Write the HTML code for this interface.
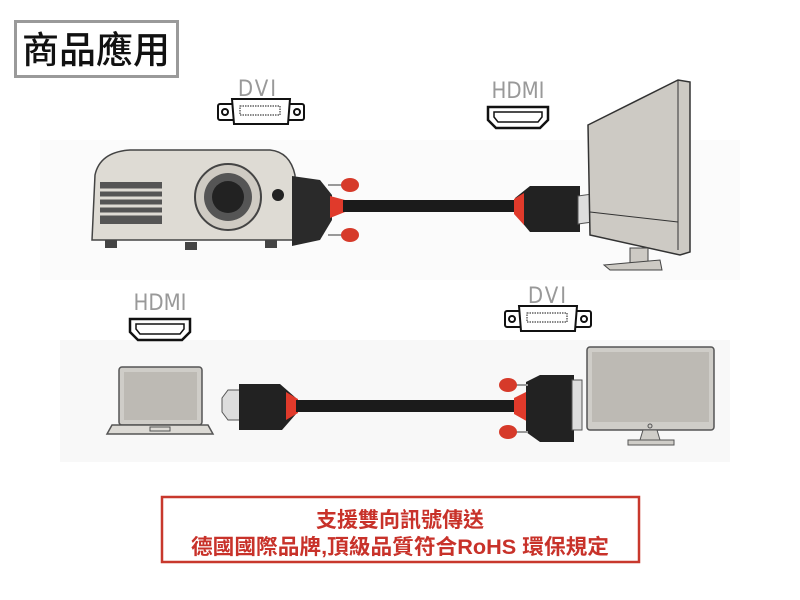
<!DOCTYPE html>
<html><head><meta charset="utf-8"><style>
body{margin:0;background:#fff;width:800px;height:600px;overflow:hidden;font-family:"Liberation Sans","Noto Sans CJK TC",sans-serif}
</style></head><body>
<svg width="800" height="600" viewBox="0 0 800 600" xmlns="http://www.w3.org/2000/svg" style="position:absolute;left:0;top:0">
<rect x="60" y="340" width="670" height="122" fill="#f8f8f8"/>
<rect x="40" y="140" width="700" height="140" fill="#fbfbfb"/>
<!-- title -->
<rect x="15.5" y="21.5" width="162" height="55" fill="#fff" stroke="#9a9a9a" stroke-width="3"/>
<text x="96" y="63" font-size="37" font-weight="500" text-anchor="middle" fill="#111" font-family="Noto Sans CJK TC,sans-serif">商品應用</text>
<!-- DVI icon top -->
<text x="258" y="96" font-size="22" text-anchor="middle" fill="#999" font-family="DejaVu Sans Condensed,sans-serif" letter-spacing="2">DVI</text>
<g transform="translate(218,98)" fill="#fff" stroke="#111" stroke-width="2">
<rect x="0" y="6" width="86" height="16" rx="2"/><path d="M14 1 H72 L70 26 H16 Z"/><circle cx="7" cy="14" r="3"/><circle cx="79" cy="14" r="3"/>
<rect x="22" y="8" width="40" height="9" stroke-width="1" stroke-dasharray="1.5 1"/>
</g>
<!-- HDMI icon top -->
<text x="518" y="98" font-size="22" text-anchor="middle" fill="#999" font-family="DejaVu Sans Condensed,sans-serif">HDMI</text>
<g transform="translate(486,105)" fill="#fff" stroke="#111" stroke-width="2.5">
<path d="M2 2 H62 V15 L54 23 H10 L2 15 Z"/><path d="M8 7 H56 V12 L52 17 H12 L8 12 Z" stroke-width="1.5"/>
</g>
<!-- projector -->
<path d="M95 175 Q100 152 130 150 H270 Q290 152 295 175 V240 H92 Z" fill="#dedbd4" stroke="#444" stroke-width="1.5"/>
<rect x="100" y="182" width="62" height="42" fill="#555"/>
<g stroke="#dedbd4" stroke-width="3"><line x1="100" y1="190" x2="162" y2="190"/><line x1="100" y1="198" x2="162" y2="198"/><line x1="100" y1="206" x2="162" y2="206"/><line x1="100" y1="214" x2="162" y2="214"/></g>
<circle cx="228" cy="197" r="33" fill="#cfcbc3" stroke="#444" stroke-width="2"/>
<circle cx="228" cy="197" r="24" fill="#555"/><circle cx="228" cy="197" r="16" fill="#222"/>
<circle cx="278" cy="195" r="6" fill="#222"/>
<rect x="105" y="240" width="12" height="8" fill="#444"/><rect x="185" y="242" width="12" height="8" fill="#444"/><rect x="265" y="240" width="12" height="8" fill="#444"/>
<!-- DVI connector on projector -->
<path d="M292 176 L320 180 L332 195 V220 L320 240 L292 246 Z" fill="#2a2a2a"/>
<path d="M330 196 L345 200 V212 L330 218 Z" fill="#e03a2b"/>
<line x1="328" y1="185" x2="345" y2="185" stroke="#999" stroke-width="2"/><line x1="328" y1="235" x2="345" y2="235" stroke="#999" stroke-width="2"/>
<ellipse cx="350" cy="185" rx="9" ry="7" fill="#d63a2a"/><ellipse cx="350" cy="235" rx="9" ry="7" fill="#d63a2a"/>
<rect x="343" y="200" width="175" height="12" fill="#1b1b1b"/>
<!-- HDMI plug top -->
<path d="M515 198 L530 186 H580 V232 H530 L515 214 Z" fill="#222"/>
<path d="M514 199 L524 193 V225 L514 214 Z" fill="#e03a2b"/>
<path d="M578 196 L592 194 L598 205 L592 222 L578 224 Z" fill="#ddd" stroke="#555"/>
<!-- monitor top -->
<path d="M588 125 L678 80 L690 82 V252 L680 255 L590 235 Z" fill="#cdcac4" stroke="#333" stroke-width="1.5"/>
<line x1="590" y1="212" x2="678" y2="222" stroke="#333"/>
<line x1="678" y1="80" x2="678" y2="250" stroke="#333"/>
<path d="M630 248 H648 V263 H630 Z" fill="#cdcac4" stroke="#444"/>
<path d="M604 265 L660 260 L662 270 L610 270 Z" fill="#cdcac4" stroke="#444"/>
<!-- bottom HDMI icon -->
<text x="160" y="310" font-size="22" text-anchor="middle" fill="#999" font-family="DejaVu Sans Condensed,sans-serif">HDMI</text>
<g transform="translate(128,317)" fill="#fff" stroke="#111" stroke-width="2.5">
<path d="M2 2 H62 V15 L54 23 H10 L2 15 Z"/><path d="M8 7 H56 V12 L52 17 H12 L8 12 Z" stroke-width="1.5"/>
</g>
<!-- bottom DVI icon -->
<text x="548" y="303" font-size="22" text-anchor="middle" fill="#999" font-family="DejaVu Sans Condensed,sans-serif" letter-spacing="2">DVI</text>
<g transform="translate(505,305)" fill="#fff" stroke="#111" stroke-width="2">
<rect x="0" y="6" width="86" height="16" rx="2"/><path d="M14 1 H72 L70 26 H16 Z"/><circle cx="7" cy="14" r="3"/><circle cx="79" cy="14" r="3"/>
<rect x="22" y="8" width="40" height="9" stroke-width="1" stroke-dasharray="1.5 1"/>
</g>
<!-- laptop -->
<rect x="119" y="367" width="83" height="58" rx="3" fill="#cfcdc8" stroke="#555" stroke-width="1.5"/>
<rect x="124" y="372" width="73" height="48" fill="#bdbab4"/>
<path d="M112 425 H208 L213 434 H107 Z" fill="#dcdad5" stroke="#555" stroke-width="1.5"/>
<rect x="150" y="427" width="20" height="4" fill="none" stroke="#555"/>
<!-- HDMI plug bottom -->
<path d="M222 398 L228 390 H240 V420 H228 L222 412 Z" fill="#ddd" stroke="#555"/>
<path d="M239 384 H280 L296 398 V414 L282 430 H239 Z" fill="#222"/>
<path d="M286 392 L298 399 V413 L286 420 Z" fill="#e03a2b"/>
<rect x="296" y="400" width="222" height="12" fill="#1b1b1b"/>
<!-- DVI plug bottom -->
<path d="M514 398 L530 390 V423 L514 414 Z" fill="#e03a2b"/>
<path d="M526 382 L540 375 H574 V442 H540 L526 432 Z" fill="#222"/>
<rect x="572" y="380" width="10" height="50" fill="#ddd" stroke="#555"/>
<line x1="512" y1="385" x2="528" y2="385" stroke="#999" stroke-width="2"/><line x1="512" y1="432" x2="528" y2="432" stroke="#999" stroke-width="2"/>
<ellipse cx="508" cy="385" rx="9" ry="7" fill="#d63a2a"/><ellipse cx="508" cy="432" rx="9" ry="7" fill="#d63a2a"/>
<!-- monitor bottom -->
<rect x="587" y="347" width="127" height="83" rx="3" fill="#cfcdc8" stroke="#555" stroke-width="1.5"/>
<rect x="592" y="352" width="117" height="70" fill="#bdbab4"/>
<circle cx="650" cy="426" r="2" fill="none" stroke="#555"/>
<path d="M643 430 H657 L660 440 H640 Z" fill="#cfcdc8" stroke="#555"/>
<rect x="628" y="440" width="46" height="5" fill="#cfcdc8" stroke="#555"/>
<!-- red box -->
<rect x="162" y="497" width="477" height="65" fill="#fff" stroke="#c8382d" stroke-width="2.5"/>
<text x="400" y="527" font-size="21" font-weight="bold" text-anchor="middle" fill="#c8322a">支援雙向訊號傳送</text>
<text x="400" y="554" font-size="21" font-weight="bold" text-anchor="middle" fill="#c8322a" textLength="418" lengthAdjust="spacingAndGlyphs">德國國際品牌,頂級品質符合RoHS 環保規定</text>
</svg>
</body></html>
